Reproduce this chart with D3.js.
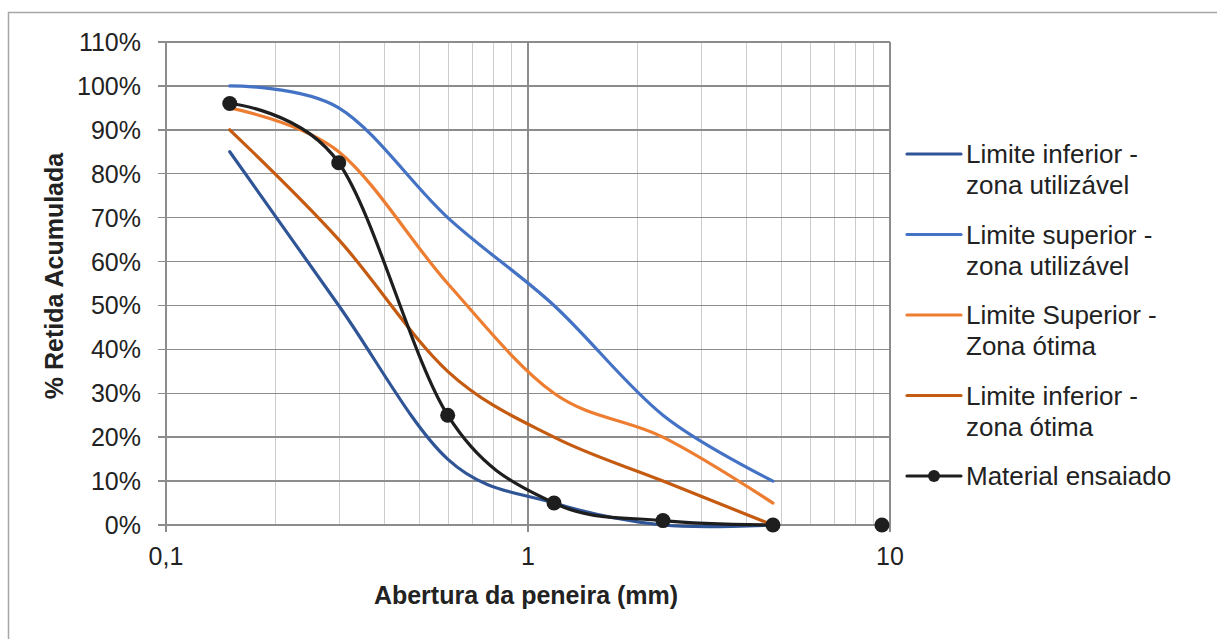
<!DOCTYPE html>
<html>
<head>
<meta charset="utf-8">
<style>
body { margin: 0; background: #fff; overflow: hidden; }
text { font-family: "Liberation Sans", Arial, sans-serif; fill: #222; }
.grid line { shape-rendering: crispEdges; }
</style>
<script src="https://d3js.org/d3.v7.min.js"></script>
</head>
<body>
<svg width="1217" height="639"></svg>
<script>

// sieve openings (mm)
var aberturas = [0.15, 0.3, 0.6, 1.18, 2.36, 4.75, 9.5];

var limInfUtil = [85, 50, 15, 5, 0, 0];
var limSupUtil = [100, 95, 70, 50, 25, 10];
var limSupOtima = [95, 85, 55, 30, 20, 5];
var limInfOtima = [90, 65, 35, 20, 10, 0];
var material = [96, 82.5, 25, 5, 1, 0, 0];

var yTicks = [0, 10, 20, 30, 40, 50, 60, 70, 80, 90, 100, 110];
var xTicks = [0.1, 1, 10];

var series = [
  { name: ["Limite inferior -", "zona utilizável"], values: limInfUtil, color: "#2f5597" },
  { name: ["Limite superior -", "zona utilizável"], values: limSupUtil, color: "#4472c4" },
  { name: ["Limite Superior -", "Zona ótima"], values: limSupOtima, color: "#ed7d31" },
  { name: ["Limite inferior -", "zona ótima"], values: limInfOtima, color: "#c55a11" },
  { name: ["Material ensaiado"], values: material, color: "#1e1e1e", marker: true }
];

var svg = d3.select("svg");

// outer frame (only top and left edges are inside the picture)
svg.append("path")
    .attr("d", "M8.5,639V12.5H1217")
    .attr("fill", "none")
    .attr("stroke", "#a6a6a6")
    .attr("stroke-width", 1.5);

var x = d3.scaleLog().domain([0.1, 10]).range([166, 890]);
var y = d3.scaleLinear().domain([0, 110]).range([525, 42]);

var grid = svg.append("g").attr("class", "grid");

// minor vertical gridlines
var minors = [];
[0.1, 1].forEach(function(dec) {
  for (var k = 2; k <= 9; k++) minors.push(dec * k);
});
grid.selectAll(".minor")
  .data(minors)
  .enter().append("line")
    .attr("x1", function(d) { return Math.round(x(d)) + 0.5; })
    .attr("x2", function(d) { return Math.round(x(d)) + 0.5; })
    .attr("y1", y(110)).attr("y2", y(0))
    .attr("stroke", "#cccccc")
    .attr("stroke-width", 1.5);

grid.selectAll(".major")
  .data(xTicks)
  .enter().append("line")
    .attr("x1", function(d) { return x(d); })
    .attr("x2", function(d) { return x(d); })
    .attr("y1", y(110)).attr("y2", y(0) + 7)
    .attr("stroke", "#8c8c8c")
    .attr("stroke-width", 1.5);

grid.selectAll(".hgrid")
  .data(yTicks)
  .enter().append("line")
    .attr("x1", x(0.1) - 8).attr("x2", x(10))
    .attr("y1", function(d) { return y(d); })
    .attr("y2", function(d) { return y(d); })
    .attr("stroke", "#8c8c8c")
    .attr("stroke-width", 1.5);

// y tick labels
svg.append("g").selectAll("text")
  .data(yTicks)
  .enter().append("text")
    .attr("x", 141)
    .attr("y", function(d) { return y(d) + 9; })
    .attr("text-anchor", "end")
    .style("font-size", "25px")
    .text(function(d) { return d + "%"; });

// x tick labels
svg.append("g").selectAll("text")
  .data(xTicks)
  .enter().append("text")
    .attr("x", function(d) { return x(d); })
    .attr("y", 565)
    .attr("text-anchor", "middle")
    .style("font-size", "25px")
    .text(function(d) { return String(d).replace(".", ","); });

// axis titles
svg.append("text")
    .attr("x", 526).attr("y", 604)
    .attr("text-anchor", "middle")
    .style("font-size", "25px")
    .style("font-weight", "bold")
    .text("Abertura da peneira (mm)");

svg.append("text")
    .attr("transform", "translate(63,276) rotate(-90)")
    .attr("text-anchor", "middle")
    .style("font-size", "25px")
    .style("font-weight", "bold")
    .text("% Retida Acumulada");

// series
var line = d3.line()
    .x(function(d) { return x(d[0]); })
    .y(function(d) { return y(d[1]); })
    .curve(d3.curveCatmullRom.alpha(0));

series.forEach(function(s) {
  var pts = s.values.map(function(v, i) { return [aberturas[i], v]; });
  var linePts = s.marker ? pts.slice(0, 6) : pts;
  svg.append("path")
      .datum(linePts)
      .attr("d", line)
      .attr("fill", "none")
      .attr("stroke", s.color)
      .attr("stroke-width", 3.2)
      .attr("stroke-linecap", "round");
  if (s.marker) {
    svg.append("g").selectAll("circle")
      .data(pts)
      .enter().append("circle")
        .attr("cx", function(d) { return x(d[0]); })
        .attr("cy", function(d) { return y(d[1]); })
        .attr("r", 7.5)
        .attr("fill", s.color);
  }
});

// legend
var legend = svg.append("g").selectAll("g")
  .data(series)
  .enter().append("g")
    .attr("transform", function(d, i) { return "translate(907," + (154 + i * 80.5) + ")"; });

legend.append("line")
    .attr("x1", 0).attr("x2", 54)
    .attr("stroke", function(d) { return d.color; })
    .attr("stroke-width", 3.2)
    .attr("stroke-linecap", "round");

legend.filter(function(d) { return d.marker; })
  .append("circle")
    .attr("cx", 27).attr("r", 6)
    .attr("fill", function(d) { return d.color; });

legend.selectAll("text")
  .data(function(d) { return d.name; })
  .enter().append("text")
    .attr("x", 59)
    .attr("y", function(d, i) { return 9 + i * 31; })
    .style("font-size", "26px")
    .text(function(d) { return d; });

</script>
</body>
</html>
